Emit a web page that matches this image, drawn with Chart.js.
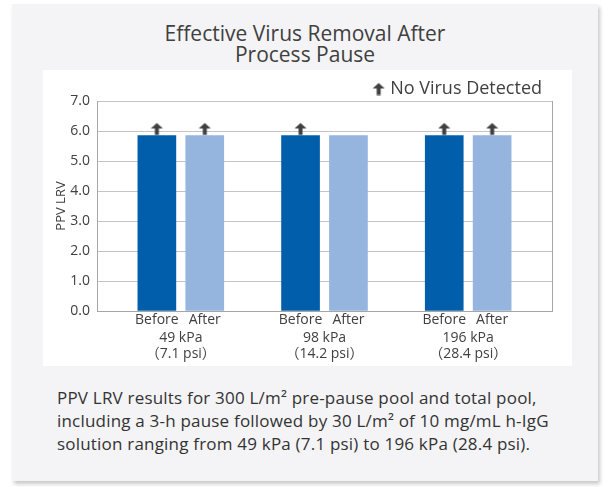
<!DOCTYPE html>
<html>
  <head>
    <meta charset="UTF-8" />
    <title>Effective Virus Removal After Process Pause</title>
    <style>
      body { margin: 0; background: #fff; font-family: "Open Sans", "Noto Sans CJK SC", sans-serif; }
      #card {
        position: absolute; left: 12px; top: 4px; width: 586px; height: 477px;
        background: #f4f4f6; box-shadow: 2px 3px 4px rgba(0, 0, 0, 0.22);
      }
      #title {
        position: absolute; left: 0; top: 19px; width: 100%; text-align: center;
        font-size: 21px; line-height: 21px; color: #404040; margin: 0; font-weight: normal;
      }
      #panel { position: absolute; left: 31px; top: 66px; width: 529px; height: 296px; background: #fff; }
      #caption {
        position: absolute; left: 45px; top: 382px; margin: 0;
        font-size: 17px; letter-spacing: 0.2px; line-height: 23px; color: #333;
      }
    </style>
  </head>
  <body>
    <div id="card">
      <h1 id="title">Effective Virus Removal After<br />Process Pause</h1>
      <div id="panel"><canvas id="chart" width="529" height="296"></canvas></div>
      <p id="caption">
        PPV LRV results for 300 L/m² pre-pause pool and total pool,<br />
        including a 3-h pause followed by 30 L/m² of 10 mg/mL h-IgG<br />
        solution ranging from 49 kPa (7.1 psi) to 196 kPa (28.4 psi).
      </p>
    </div>
    <script src="https://cdn.jsdelivr.net/npm/chart.js"></script>
    <script>
      // chart data
      const pressures = ['49 kPa', '98 kPa', '196 kPa'];
      const psiLabels = ['（7.1 psi）', '（14.2 psi）', '（28.4 psi）'];
      const phases = ['Before', 'After'];
      const lrvBefore = [5.85, 5.85, 5.85];
      const lrvAfter = [5.85, 5.85, 5.85];
      const noVirusBefore = [true, true, true];
      const noVirusAfter = [true, false, true];
      const yTicks = [0, 1, 2, 3, 4, 5, 6, 7];

      const DARK = '#005eaa';
      const LIGHT = '#95b4de';
      const TEXT = '#404040';

      // each pressure takes 3 slots: Before, After, gap
      const slot = (g, p) => g * 3 + p;

      function makeArrow(h) {
        const c = document.createElement('canvas');
        c.width = 13;
        c.height = h;
        const a = c.getContext('2d');
        a.fillStyle = '#404040';
        a.beginPath();
        a.moveTo(6.5, 0.5);
        a.lineTo(0.5, 6);
        a.lineTo(12.5, 6);
        a.closePath();
        a.fill();
        a.fillRect(4.5, 5.5, 4, 7);
        return c;
      }
      const arrowOnBar = makeArrow(26); // arrow in upper half, centre sits on bar top
      const arrowLegend = makeArrow(13);

      const beforePts = lrvBefore.map((v, g) => ({ x: slot(g, 0), y: v }));
      const afterPts = lrvAfter.map((v, g) => ({ x: slot(g, 1), y: v }));
      const arrowPts = [];
      pressures.forEach((p, g) => {
        if (noVirusBefore[g]) arrowPts.push({ x: slot(g, 0), y: lrvBefore[g] });
        if (noVirusAfter[g]) arrowPts.push({ x: slot(g, 1), y: lrvAfter[g] });
      });

      const barTicks = [];
      pressures.forEach((p, g) => phases.forEach((ph, i) => barTicks.push(slot(g, i))));
      const groupTicks = pressures.map((p, g) => slot(g, 0.5));
      const xMin = -1.25;
      const xMax = slot(pressures.length - 1, 1) + 1.25;

      const family = '"Open Sans", "Noto Sans CJK SC", sans-serif';
      const font = { family: family, size: 14 };

      // fixed legend height so the plot top lands where it should
      const legendHeight = {
        id: 'legendHeight',
        beforeInit(chart) {
          const fit = chart.legend.fit;
          chart.legend.fit = function () {
            fit.call(this);
            this.height = 31;
          };
        },
      };

      new Chart(document.getElementById('chart'), {
        type: 'bar',
        data: {
          datasets: [
            { label: 'Before', data: beforePts, backgroundColor: DARK, barThickness: 38 },
            { label: 'After', data: afterPts, backgroundColor: LIGHT, barThickness: 38 },
            {
              type: 'scatter',
              label: 'No Virus Detected',
              data: arrowPts,
              pointStyle: arrowOnBar,
            },
          ],
        },
        plugins: [legendHeight],
        options: {
          responsive: false,
          animation: false,
          grouped: false,
          layout: { padding: { left: 0, right: 20, top: 0, bottom: 4 } },
          plugins: {
            tooltip: { enabled: false },
            legend: {
              align: 'end',
              labels: {
                usePointStyle: true,
                pointStyleWidth: 5,
                padding: 10,
                color: TEXT,
                font: { family: family, size: 18 },
                generateLabels: () => [
                  {
                    text: 'No Virus Detected',
                    pointStyle: arrowLegend,
                    fillStyle: TEXT,
                    strokeStyle: TEXT,
                    lineWidth: 0,
                    hidden: false,
                    datasetIndex: 2,
                    fontColor: TEXT,
                  },
                ],
              },
            },
          },
          scales: {
            x: {
              type: 'linear',
              offset: false,
              min: xMin,
              max: xMax,
              weight: 0,
              grid: { display: false, drawTicks: false },
              border: { color: '#a6a6a6' },
              afterBuildTicks: (s) => { s.ticks = barTicks.map((v) => ({ value: v })); },
              ticks: {
                autoSkip: false,
                maxRotation: 0,
                padding: 1,
                color: TEXT,
                font: font,
                callback: (v, i) => phases[i % 2],
              },
            },
            x2: {
              type: 'linear',
              offset: false,
              position: 'bottom',
              min: xMin,
              max: xMax,
              weight: 1,
              grid: { display: false, drawTicks: false },
              border: { display: false },
              afterBuildTicks: (s) => { s.ticks = groupTicks.map((v) => ({ value: v })); },
              ticks: {
                autoSkip: false,
                maxRotation: 0,
                padding: 0,
                color: TEXT,
                font: { family: family, size: 14, lineHeight: 1.15 },
                callback: (v, i) => [pressures[i], psiLabels[i]],
              },
            },
            y: {
              min: 0,
              max: 7,
              afterBuildTicks: (s) => { s.ticks = yTicks.map((v) => ({ value: v })); },
              afterFit: (s) => { s.width = 54; },
              grid: { color: '#c4c4c4', drawTicks: false },
              border: { color: '#a6a6a6' },
              ticks: {
                padding: 7,
                color: TEXT,
                font: font,
                callback: (v) => v.toFixed(1),
              },
              title: {
                display: true,
                text: 'PPV LRV',
                color: TEXT,
                font: { family: family, size: 13 },
                padding: { top: 10, bottom: 0 },
              },
            },
            yRight: {
              position: 'right',
              min: 0,
              max: 7,
              grid: { display: false, drawTicks: false },
              border: { color: '#a6a6a6' },
              ticks: { display: false },
            },
          },
        },
      });
    </script>
  </body>
</html>
